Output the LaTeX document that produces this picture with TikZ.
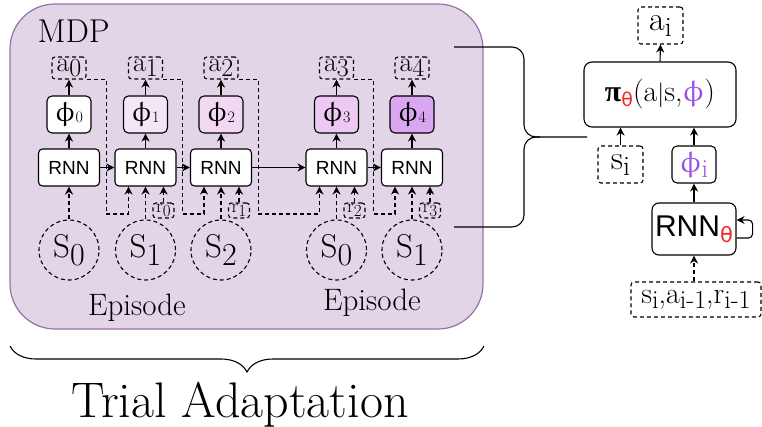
\documentclass[tikz,border=0pt]{standalone}
\usepackage{fontspec}
\usepackage{upgreek}
\usetikzlibrary{arrows.meta,decorations.pathreplacing,calc}
\newfontfamily\helv{Liberation Sans}
\newfontfamily\dvs{DejaVu Sans}
\newfontfamily\lserif{Liberation Serif}
\definecolor{mdpfill}{HTML}{E1D5E7}
\definecolor{mdpdraw}{HTML}{9673A6}
\definecolor{phic0}{HTML}{FFFFFF}
\definecolor{phic1}{HTML}{F5E6F7}
\definecolor{phic2}{HTML}{F2D8F2}
\definecolor{phic3}{HTML}{EDC8F3}
\definecolor{phic4}{HTML}{D9A6EF}
\definecolor{phipurple}{RGB}{155,80,230}
\definecolor{thetared}{RGB}{240,40,40}
\newcommand\fs[1]{\fontsize{#1}{#1}\selectfont}
\begin{document}
\begin{tikzpicture}[x=1pt,y=-1pt,line width=1.1pt,
  arr/.style={-{Stealth[length=8pt,width=8pt,inset=2.5pt]}},
  dl/.style={dash pattern=on 4pt off 3pt},
  rnnbox/.style={draw,rounded corners=4pt,fill=white,minimum width=61pt,minimum height=37pt,inner sep=0pt,font=\helv\fs{19}},
  phibox/.style={draw,rounded corners=5pt,minimum width=44pt,minimum height=37pt,inner sep=0pt},
  abox/.style={draw,dl,rounded corners=3pt,minimum width=34pt,minimum height=22pt,inner sep=0pt},
  rbox/.style={draw,dl,rounded corners=3pt,minimum width=21pt,minimum height=15pt,inner sep=0pt},
  scirc/.style={draw,dl,circle,minimum size=60pt,inner sep=0pt},
]
\useasboundingbox (0,0) rectangle (762,427);
% MDP background
\draw[draw=mdpdraw,fill=mdpfill,line width=1.2pt,rounded corners=45pt] (10,4) rectangle (483,329);
\node[anchor=base west,inner sep=0pt,font=\fs{33}] (mdp) at (37,43) {MDP};

% columns
\foreach \i/\x/\sl in {0/69/0,1/145.5/1,2/221/2,3/336.5/0,4/412/1} {
  \node[rnnbox] (rnn\i) at (\x,167.5) {RNN};
  \node[phibox,fill=phic\i] (phi\i) at (\x,114.5) {\fs{28}$\upphi$\raisebox{-1pt}{\fs{16}\i}};
  \node[abox] (a\i) at (\x,68) {\fs{28}a\raisebox{-5pt}{\fs{26}\i}};
  \node[scirc] (s\i) at (\x,250) {\fs{33}S\raisebox{-8pt}{\fs{32}\sl}};
  \draw[arr] (rnn\i.north) -- (phi\i.south);
  \draw[arr] (phi\i.north) -- (a\i.south);
  \draw[arr,dl] (s\i.north) -- (rnn\i.south);
}

\coordinate (low) at (0,214);
\foreach \i/\j in {0/1,1/2,2/3,3/4} {
  \draw[arr] (rnn\i.east) -- (rnn\j.west);
  \path ([xshift=6pt]rnn\i.east) coordinate (e\i);
  \path ([xshift=-17pt]rnn\j.south) coordinate (in\j);
  \path ([xshift=18pt]rnn\j.south) coordinate (rr\j);
  \node[rbox] (r\i) at (rr\j |- 0,210.5) {\fs{19}r\raisebox{-4pt}{\fs{17}\i}};
  \draw[arr,dl] (a\i.south east) -| (e\i |- low) -| (in\j);
  \draw[arr,dl] (r\i.north) -- (r\i.north |- rnn\j.south);
}

\node[anchor=base,inner sep=0pt,font=\fs{31}] (ep1) at (137,316) {Episode};
\node[anchor=base,inner sep=0pt,font=\fs{31}] (ep2) at (372,310) {Episode};

% bottom brace
\coordinate (bl) at (10,346);
\coordinate (br) at (484,346);
\draw[decorate,decoration={brace,mirror,amplitude=26pt}] (bl) -- (br);
\node[anchor=base,inner sep=0pt,font=\fs{50}] (trial) at (240,417) {Trial Adaptation};

% right brace
\draw[rounded corners=12pt] (454,47) -- (524,47) -- (524,137) -- (587,137);
\draw[rounded corners=12pt] (454,227) -- (524,227) -- (524,137) -- (540,137);

% right side
\node[abox,minimum width=45pt,minimum height=37pt] (ai) at (660.5,25.5) {\fs{34}a\raisebox{-6pt}{\fs{28}i}};
\node[draw,rounded corners=8pt,fill=white,minimum width=152pt,minimum height=65pt,inner sep=0pt] (pi) at (660,94.5)
  {\fs{30}{\lserif\bfseries π}\raisebox{-5pt}{\color{thetared}\dvs\fs{19}θ}(a$|$s,{\color{phipurple}$\upphi$})};
\node[abox,minimum width=45pt,minimum height=37pt] (si) at (620.5,164.5) {\fs{34}s\raisebox{-6pt}{\fs{28}i}};
\node[phibox,fill=white] (phii) at (694,164.5) {\color{phipurple}\fs{30}$\upphi$\raisebox{-5pt}{\fs{26}i}};
\node[rnnbox,minimum width=84pt,minimum height=52pt,rounded corners=7pt,font=\helv\fs{30}] (rnnt) at (694,229)
  {RNN\raisebox{-6pt}{\color{thetared}\dvs\fs{21}θ}};
\node[abox,minimum width=130pt,minimum height=35pt] (inp) at (696,299.5)
  {\fs{30}s\raisebox{-5pt}{\fs{26}i},a\raisebox{-5pt}{\fs{26}i-1},r\raisebox{-5pt}{\fs{26}i-1}};

\draw[arr] (pi.north) -- (ai.south);
\draw[arr] (si.north) -- (si.north |- pi.south);
\draw[arr] (phii.north) -- (phii.north |- pi.south);
\draw[arr] (rnnt.north) -- (phii.south);
\draw[arr,dl] (rnnt.south |- inp.north) -- (rnnt.south);
\draw[arr,rounded corners=4pt] ([yshift=-9pt]rnnt.east) -- ++(16,0) -- ++(0,-18) -- ([yshift=9pt]rnnt.east);
\end{tikzpicture}
\end{document}
